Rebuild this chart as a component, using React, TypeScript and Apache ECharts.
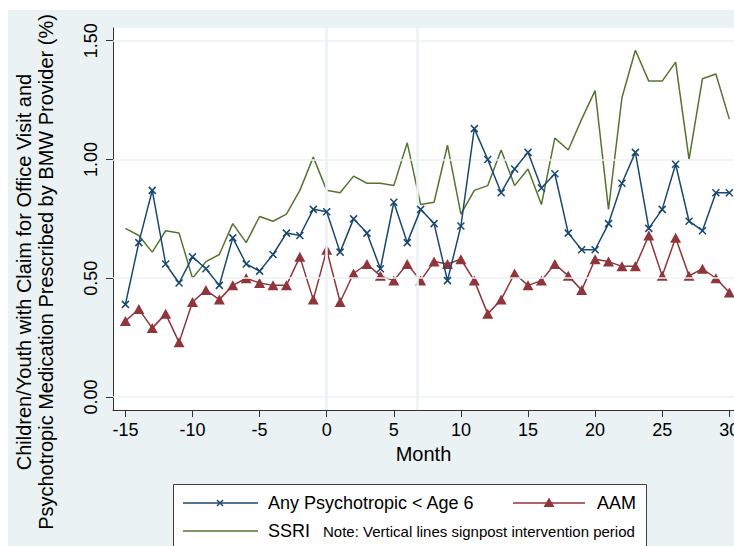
import React, { useEffect, useRef } from "react";
import * as echarts from "echarts";

const months = [
  -15, -14, -13, -12, -11, -10, -9, -8, -7, -6, -5, -4, -3, -2, -1,
  0, 1, 2, 3, 4, 5, 6, 7, 8, 9, 10, 11, 12, 13, 14,
  15, 16, 17, 18, 19, 20, 21, 22, 23, 24, 25, 26, 27, 28, 29, 30,
];
const anyPsychotropic = [
  0.39, 0.65, 0.87, 0.56, 0.48, 0.59, 0.54, 0.47, 0.67, 0.56, 0.53, 0.6, 0.69, 0.68, 0.79,
  0.78, 0.61, 0.75, 0.69, 0.54, 0.82, 0.65, 0.79, 0.73, 0.49, 0.72, 1.13, 1.0, 0.86, 0.96,
  1.03, 0.88, 0.94, 0.69, 0.62, 0.62, 0.73, 0.9, 1.03, 0.71, 0.79, 0.98, 0.74, 0.7, 0.86, 0.86,
];
const aam = [
  0.32, 0.37, 0.29, 0.35, 0.23, 0.4, 0.45, 0.41, 0.47, 0.5, 0.48, 0.47, 0.47, 0.59, 0.41,
  0.62, 0.4, 0.52, 0.56, 0.51, 0.49, 0.56, 0.49, 0.57, 0.56, 0.58, 0.49, 0.35, 0.41, 0.52,
  0.47, 0.49, 0.56, 0.51, 0.45, 0.58, 0.57, 0.55, 0.55, 0.68, 0.51, 0.67, 0.51, 0.54, 0.5, 0.44,
];
const ssri = [
  0.71, 0.68, 0.61, 0.7, 0.69, 0.5, 0.57, 0.6, 0.73, 0.65, 0.76, 0.74, 0.77, 0.87, 1.01,
  0.87, 0.86, 0.93, 0.9, 0.9, 0.89, 1.07, 0.81, 0.82, 1.06, 0.77, 0.87, 0.89, 1.04, 0.89,
  0.96, 0.81, 1.09, 1.04, 1.17, 1.29, 0.79, 1.26, 1.46, 1.33, 1.33, 1.41, 1.0, 1.34, 1.36, 1.17,
];
const xTicks = [-15, -10, -5, 0, 5, 10, 15, 20, 25, 30];
const yTicks = [0, 0.5, 1, 1.5];
const interventionMonths = [0, 6.75];

const FONT = "'Liberation Sans', Arial, Helvetica, sans-serif";
const BLUE = "#1a476f";
const RED = "#90353b";
const GREEN = "#55752f";
const BG = "#eaf2f3";
const AXIS = "#333333";

export default function App() {
  const ref = useRef<HTMLDivElement>(null);
  useEffect(() => {
    const chart = echarts.init(ref.current!, null, { renderer: "svg" });
    const pairs = (vals: number[]) => months.map((m, i) => [m, vals[i]]);
    const txt = (x: number, y: number, text: string, size: number, align: string, rot = 0) => ({
      type: "text",
      x,
      y,
      rotation: rot,
      z: 100,
      style: { text, fontSize: size, fontFamily: FONT, fill: "#000", align, verticalAlign: "middle" },
    });
    const ln = (x1: number, y1: number, x2: number, y2: number, color: string, w = 1.5) => ({
      type: "line",
      z: 100,
      shape: { x1, y1, x2, y2 },
      style: { stroke: color, lineWidth: w },
    });
    chart.setOption({
      animation: false,
      backgroundColor: BG,
      textStyle: { fontFamily: FONT },
      grid: {
        left: 113,
        right: 0,
        top: 28,
        bottom: 136,
        show: true,
        backgroundColor: "#ffffff",
        borderWidth: 0,
        containLabel: false,
        outerBoundsMode: "none",
      },
      xAxis: {
        type: "value",
        min: -15.924,
        max: 30.35,
        axisLine: { show: true, onZero: false, lineStyle: { color: AXIS, width: 1 } },
        axisTick: { show: true, length: 7, customValues: xTicks, lineStyle: { color: AXIS, width: 1 } },
        axisLabel: { customValues: xTicks, fontSize: 18, color: "#000", margin: 11, fontFamily: FONT },
        splitLine: { show: false },
        name: "Month",
        nameLocation: "middle",
        nameGap: 33,
        nameTextStyle: { fontSize: 20, color: "#000", fontFamily: FONT },
      },
      yAxis: {
        type: "value",
        min: -0.0547,
        max: 1.5535,
        axisLine: { show: true, onZero: false, lineStyle: { color: AXIS, width: 1 } },
        axisTick: { show: true, length: 7, customValues: yTicks, lineStyle: { color: AXIS, width: 1 } },
        axisLabel: {
          customValues: yTicks,
          rotate: 90,
          fontSize: 18,
          color: "#000",
          margin: 13,
          fontFamily: FONT,
          formatter: (v: number) => v.toFixed(2),
        },
        splitLine: { show: false },
      },
      graphic: [
        { type: "rect", z: 99, shape: { x: 0, y: 0, width: 734, height: 10 }, style: { fill: "#ffffff" } },
        { type: "rect", z: 99, shape: { x: 0, y: 0, width: 8, height: 546 }, style: { fill: "#ffffff" } },
        txt(24, 272, "Children/Youth with Claim for Office Visit and", 20, "center", Math.PI / 2),
        txt(46, 272, "Psychotropic Medication Prescribed by BMW Provider (%)", 20, "center", Math.PI / 2),
        {
          type: "rect",
          z: 100,
          shape: { x: 173.5, y: 484.5, width: 473, height: 80 },
          style: { fill: "#ffffff", stroke: "#404040", lineWidth: 1 },
        },
        ln(183, 503, 258, 503, BLUE),
        ln(217, 500, 223, 506, BLUE, 1.5),
        ln(217, 506, 223, 500, BLUE, 1.5),
        txt(268, 503, "Any Psychotropic < Age 6", 18, "left"),
        ln(513, 503, 585, 503, RED),
        {
          type: "polygon",
          z: 101,
          shape: { points: [[549, 497.5], [554.5, 507], [543.5, 507]] },
          style: { fill: RED },
        },
        txt(636, 503, "AAM", 18, "right"),
        ln(183, 531, 258, 531, GREEN),
        txt(268, 531, "SSRI", 18, "left"),
        txt(323, 531, "Note: Vertical lines signpost intervention period", 15, "left"),
      ],
      series: [
        {
          type: "line",
          name: "gridlines",
          data: [],
          z: 1,
          silent: true,
          markLine: {
            silent: true,
            symbol: ["none", "none"],
            label: { show: false },
            animation: false,
            data: [
              ...yTicks.map((v) => ({ yAxis: v, lineStyle: { color: BG, width: 1.5, type: "solid" } })),
              ...interventionMonths.map((v) => ({ xAxis: v, lineStyle: { color: BG, width: 2.5, type: "solid" } })),
            ],
          },
        },
        {
          type: "line",
          name: "SSRI",
          data: pairs(ssri),
          z: 3,
          showSymbol: false,
          symbol: "none",
          lineStyle: { color: GREEN, width: 1.5 },
          itemStyle: { color: GREEN },
        },
        {
          type: "line",
          name: "AAM",
          data: pairs(aam),
          z: 4,
          symbol: "triangle",
          symbolSize: [11, 10],
          lineStyle: { color: RED, width: 1.5 },
          itemStyle: { color: RED },
        },
        {
          type: "line",
          name: "Any Psychotropic < Age 6",
          data: pairs(anyPsychotropic),
          z: 5,
          symbol: "path://M0,0L10,10M10,0L0,10",
          symbolSize: 7,
          lineStyle: { color: BLUE, width: 1.5 },
          itemStyle: { color: BLUE, borderColor: BLUE, borderWidth: 1.5 },
        },
      ],
    });
    return () => chart.dispose();
  }, []);
  return (
    <div
      ref={ref}
      style={{ position: "fixed", left: 0, top: 0, width: 734, height: 546 }}
    />
  );
}
